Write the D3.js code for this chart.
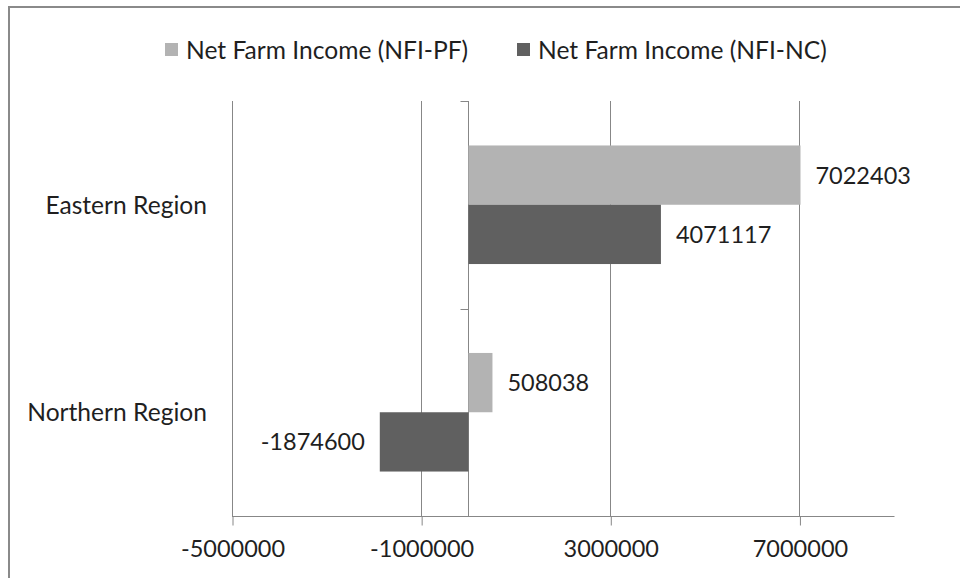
<!DOCTYPE html>
<html><head><meta charset="utf-8">
<script src="https://cdn.jsdelivr.net/npm/d3@7"></script>
<style>body{margin:0;background:#fff}svg{display:block}text{font-family:Lato,"Open Sans",sans-serif;fill:#1f1f1f}</style>
</head><body>
<svg id="c" width="960" height="578"></svg>
<script>
const categories = ["Eastern Region", "Northern Region"];
const seriesNames = ["Net Farm Income (NFI-PF)", "Net Farm Income (NFI-NC)"];
const nfiPF = [7022403, 508038];
const nfiNC = [4071117, -1874600];
const tickValues = [-5000000, -1000000, 3000000, 7000000];
const colors = ["#b3b3b3", "#606060"];

(function () {
const svg = d3.select("#c");
const fs = 23.5, fsText = 24.6;
svg.append("rect").attr("x", 9).attr("y", 7).attr("width", 1000).attr("height", 700)
  .attr("fill", "#fff").attr("stroke", "#8a8a8a").attr("stroke-width", 2);

const pLeft = 232, pRight = 894, pTop = 101, pBottom = 516;
const x = d3.scaleLinear().domain([-5000000, 9000000]).range([pLeft, pRight]);
const y = d3.scaleBand().domain(categories).range([pTop, pBottom]).paddingInner(0).paddingOuter(0);
// bar width = bandwidth/3.5 (gap width 150%)
const bw = y.bandwidth() / 3.5;
const gridCol = "#878787";

// gridlines
svg.append("g").selectAll("line").data(tickValues).join("line")
  .attr("x1", d => Math.round(x(d)) + 0.5).attr("x2", d => Math.round(x(d)) + 0.5)
  .attr("y1", pTop).attr("y2", pBottom).attr("stroke", gridCol).attr("stroke-width", 1);

// bottom axis
const xAxis = d3.axisBottom(x).tickValues(tickValues).tickSize(9).tickSizeOuter(0).tickPadding(15)
  .tickFormat(d => String(d));
const gx = svg.append("g").attr("transform", `translate(0.5,${pBottom + 0.5})`).call(xAxis);
gx.select(".domain").attr("stroke", gridCol).attr("d", `M${pLeft - 0.5},0H${pRight}`);
gx.selectAll(".tick line").attr("stroke", gridCol);
gx.selectAll(".tick text").attr("font-size", fs).attr("fill", "#1f1f1f").attr("font-family", "Lato");

// vertical category axis at zero
const x0 = Math.round(x(0)) + 0.5;
svg.append("line").attr("x1", x0).attr("x2", x0).attr("y1", pTop).attr("y2", pBottom).attr("stroke", gridCol);
const catTicks = [pTop, pTop + y.bandwidth()];
svg.append("g").selectAll("line").data(catTicks).join("line")
  .attr("x1", x0 - 8).attr("x2", x0).attr("y1", d => Math.round(d) + 0.5).attr("y2", d => Math.round(d) + 0.5)
  .attr("stroke", gridCol);

// bars
const rows = [];
categories.forEach((c, i) => {
  [nfiPF[i], nfiNC[i]].forEach((v, s) => rows.push({c, s, v}));
});
const barY = d => y(d.c) + (y.bandwidth() - 2 * bw) / 2 + d.s * bw;
svg.append("g").selectAll("rect").data(rows).join("rect")
  .attr("x", d => x(Math.min(0, d.v))).attr("width", d => Math.abs(x(d.v) - x(0)))
  .attr("y", barY).attr("height", bw).attr("fill", d => colors[d.s]);

// value labels
svg.append("g").selectAll("text").data(rows).join("text")
  .attr("x", d => d.v >= 0 ? x(d.v) + 15 : x(d.v) - 15)
  .attr("y", d => barY(d) + bw / 2).attr("dy", "0.36em")
  .attr("text-anchor", d => d.v >= 0 ? "start" : "end")
  .attr("font-size", fs).text(d => String(d.v));

// category labels
svg.append("g").selectAll("text").data(categories).join("text")
  .attr("x", 207).attr("y", d => y(d) + y.bandwidth() / 2).attr("dy", "0.36em")
  .attr("text-anchor", "end").attr("font-size", fsText).text(d => d);

// legend
const lg = svg.append("g");
const legX = [165, 517];
seriesNames.forEach((n, i) => {
  lg.append("rect").attr("x", legX[i]).attr("y", 43).attr("width", 13).attr("height", 13).attr("fill", colors[i]);
  lg.append("text").attr("x", legX[i] + 21).attr("y", 50).attr("dy", "0.36em").attr("font-size", fsText).text(n);
});
})();
</script>
</body></html>
